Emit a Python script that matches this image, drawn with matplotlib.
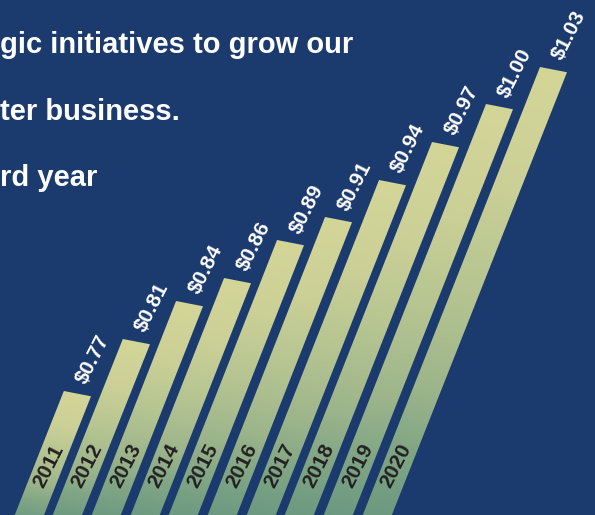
import numpy as np
import matplotlib
matplotlib.use('Agg')
import matplotlib.pyplot as plt
from matplotlib.transforms import Affine2D
from matplotlib.colors import LinearSegmentedColormap

# data
years = ['2011', '2012', '2013', '2014', '2015', '2016', '2017', '2018', '2019', '2020']
dividends = [0.77, 0.81, 0.84, 0.86, 0.89, 0.91, 0.94, 0.97, 1.00, 1.03]
value_labels = ['$%.2f' % d for d in dividends]
headline = ['gic initiatives to grow our', 'ter business.', 'rd year']

BG = '#1b3a6d'
plt.rcParams['font.family'] = ['Liberation Sans', 'DejaVu Sans']

# top of bar yellow -> green where it leaves the picture
grad_cmap = LinearSegmentedColormap.from_list('bar', [
    (0.0, '#6a9880'), (0.15, '#7fa585'), (0.3, '#9db58b'),
    (0.5, '#b4c491'), (0.75, '#cbd096'), (1.0, '#d4d698')])

fig = plt.figure(figsize=(5.95, 5.15), dpi=100)
fig.patch.set_facecolor(BG)
ax = fig.add_axes([0, 0, 1, 1])
ax.set_facecolor(BG)

# bar space (index, value) -> picture pixels, bars lean to the right
skew = Affine2D(np.array([[35.9, 588.0, -376.2],
                          [7.0, -1490.7, 1542.1],
                          [0.0, 0.0, 1.0]]))
T = skew + ax.transData
m = skew.get_matrix()


def value_at_row(i, row):
    # value along bar i that sits on picture row `row`
    return (m[1, 2] + m[1, 0] * i - row) / (-m[1, 1])


idx = np.arange(len(years))
bases = np.array([value_at_row(i, 522) for i in idx])
vals = np.array(dividends)
width = 0.75

ax.bar(idx, vals - bases, bottom=bases, width=width, transform=T,
       color='none', linewidth=0)

grad = np.linspace(0, 1, 256).reshape(-1, 1)
for i, (b, v) in enumerate(zip(bases, vals)):
    ax.imshow(grad, extent=[i - width / 2, i + width / 2, b, v], origin='lower',
              cmap=grad_cmap, aspect='auto', interpolation='bilinear',
              transform=T, zorder=2)
    ax.text(i, v + 0.0075, value_labels[i], transform=T, rotation=63,
            rotation_mode='anchor', ha='left', va='center', color='white',
            fontsize=15, fontweight='bold', zorder=3)
    ax.text(i, value_at_row(i, 466), years[i], transform=T, rotation=63,
            rotation_mode='anchor', ha='center', va='center', color='#231f20',
            fontsize=15, fontweight='bold', zorder=3)

for line, row in zip(headline, [53, 120, 186]):
    ax.text(0, row, line, color='white', fontsize=21, fontweight='bold',
            ha='left', va='baseline', zorder=3)

ax.set_xlim(0, 595)
ax.set_ylim(515, 0)
ax.axis('off')

fig.savefig('out.png', dpi=100, facecolor=BG)
